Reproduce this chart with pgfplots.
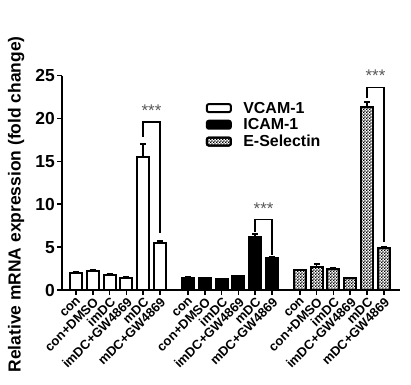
\documentclass[border=0pt]{standalone}
\usepackage{fontspec}
\setmainfont{Liberation Sans}
\usepackage{pgfplots}
\pgfplotsset{compat=1.18}
\usetikzlibrary{patterns,patterns.meta}
\pgfdeclarepattern{name=smallchecker, type=uncolored,
  bottom left={\pgfpoint{0bp}{0bp}}, top right={\pgfpoint{3.2bp}{3.2bp}},
  tile size={\pgfpoint{3.2bp}{3.2bp}},
  code={\pgfpathrectangle{\pgfpoint{0bp}{0bp}}{\pgfpoint{1.6bp}{1.6bp}}
        \pgfpathrectangle{\pgfpoint{1.6bp}{1.6bp}}{\pgfpoint{1.6bp}{1.6bp}}
        \pgfusepath{fill}}}
\begin{document}
\begin{tikzpicture}
\useasboundingbox (0,0) rectangle (411bp,385bp);
\begin{axis}[
  at={(62bp,95bp)}, anchor=south west,
  scale only axis, width=338bp, height=214.3bp,
  xmin=-0.83, xmax=19.29, ymin=0, ymax=25,
  axis x line=bottom, axis y line=left,
  axis line style={-, line width=2bp},
  every tick/.style={line width=1.6bp, black},
  tick align=outside, major tick length=5bp,
  ytick={0,5,...,25},
  xtick={0,1,2,3,4,5,6.67,7.67,8.67,9.67,10.67,11.67,13.33,14.33,15.33,16.33,17.33,18.33},
  xticklabels={con,con+DMSO,imDC,imDC+GW4869,mDC,mDC+GW4869,con,con+DMSO,imDC,imDC+GW4869,mDC,mDC+GW4869,con,con+DMSO,imDC,imDC+GW4869,mDC,mDC+GW4869},
  x tick label style={rotate=45, anchor=north east, font=\bfseries\fontsize{13}{14}\selectfont, inner sep=1bp},
  y tick label style={font=\bfseries\fontsize{17.5}{18}\selectfont, inner sep=2bp},
  /pgf/number format/assume math mode=true,
  ylabel={Relative mRNA expression (fold change)},
  ylabel style={at={(axis description cs:-0.136,0.40)}, anchor=center, font=\bfseries\fontsize{17.5}{19}\selectfont},
  ybar, bar width=12bp, bar shift=0pt,
  clip=false,
  legend style={at={(axis description cs:0.425,0.885)}, anchor=north west, draw=none, fill=none,
    font=\bfseries\fontsize{16}{17}\selectfont, row sep=1.5bp, inner sep=0pt,
    nodes={inner sep=1.5bp, text depth=0.1em}},
  legend cell align=left,
  legend image code/.code={\draw[#1, line width=2bp, rounded corners=2bp] (0bp,-4bp) rectangle (24bp,4bp); \path (34bp,0bp);},
]
\addplot[bar shift=0pt, draw=black, line width=2bp, fill=white,
  error bars/.cd, y dir=plus, y explicit, error bar style={line width=1.6bp, black}, error mark options={line width=1.6bp, mark size=3bp, rotate=90}]
  coordinates {(0,2.0) +- (0,0.1) (1,2.2) +- (0,0.1) (2,1.8) +- (0,0.1) (3,1.45) +- (0,0.05) (4,15.5) +- (0,1.5) (5,5.5) +- (0,0.2)};
\addlegendentry{VCAM-1}
\addplot[bar shift=0pt, draw=black, line width=2bp, fill=black,
  error bars/.cd, y dir=plus, y explicit, error bar style={line width=1.6bp, black}, error mark options={line width=1.6bp, mark size=3bp, rotate=90}]
  coordinates {(6.67,1.45) +- (0,0.05) (7.67,1.35) +- (0,0.1) (8.67,1.3) +- (0,0.05) (9.67,1.6) +- (0,0.05) (10.67,6.2) +- (0,0.3) (11.67,3.7) +- (0,0.2)};
\addlegendentry{ICAM-1}
\addplot[bar shift=0pt, draw=black, line width=2bp, fill=white,
  postaction={pattern=smallchecker, pattern color=black},
  error bars/.cd, y dir=plus, y explicit, error bar style={line width=1.6bp, black}, error mark options={line width=1.6bp, mark size=3bp, rotate=90}]
  coordinates {(13.33,2.3) +- (0,0.1) (14.33,2.7) +- (0,0.3) (15.33,2.4) +- (0,0.15) (16.33,1.35) +- (0,0.05) (17.33,21.3) +- (0,0.6) (18.33,4.9) +- (0,0.15)};
\addlegendentry{E-Selectin}
% significance brackets
\draw[line width=1.5bp] (axis cs:4,17.9) -- (axis cs:4,19.6) -- (axis cs:5,19.6) -- (axis cs:5,6.6);
\node[font=\fontsize{17}{18}\selectfont, text=black!65] at (axis cs:4.5,20.9) {***};
\draw[line width=1.5bp] (axis cs:10.67,6.8) -- (axis cs:10.67,8.2) -- (axis cs:11.67,8.2) -- (axis cs:11.67,4.1);
\node[font=\fontsize{17}{18}\selectfont, text=black!65] at (axis cs:11.17,9.5) {***};
\draw[line width=1.5bp] (axis cs:17.33,22.4) -- (axis cs:17.33,23.65) -- (axis cs:18.33,23.65) -- (axis cs:18.33,5.6);
\node[font=\fontsize{17}{18}\selectfont, text=black!65] at (axis cs:17.83,24.95) {***};
\end{axis}
\end{tikzpicture}
\end{document}
